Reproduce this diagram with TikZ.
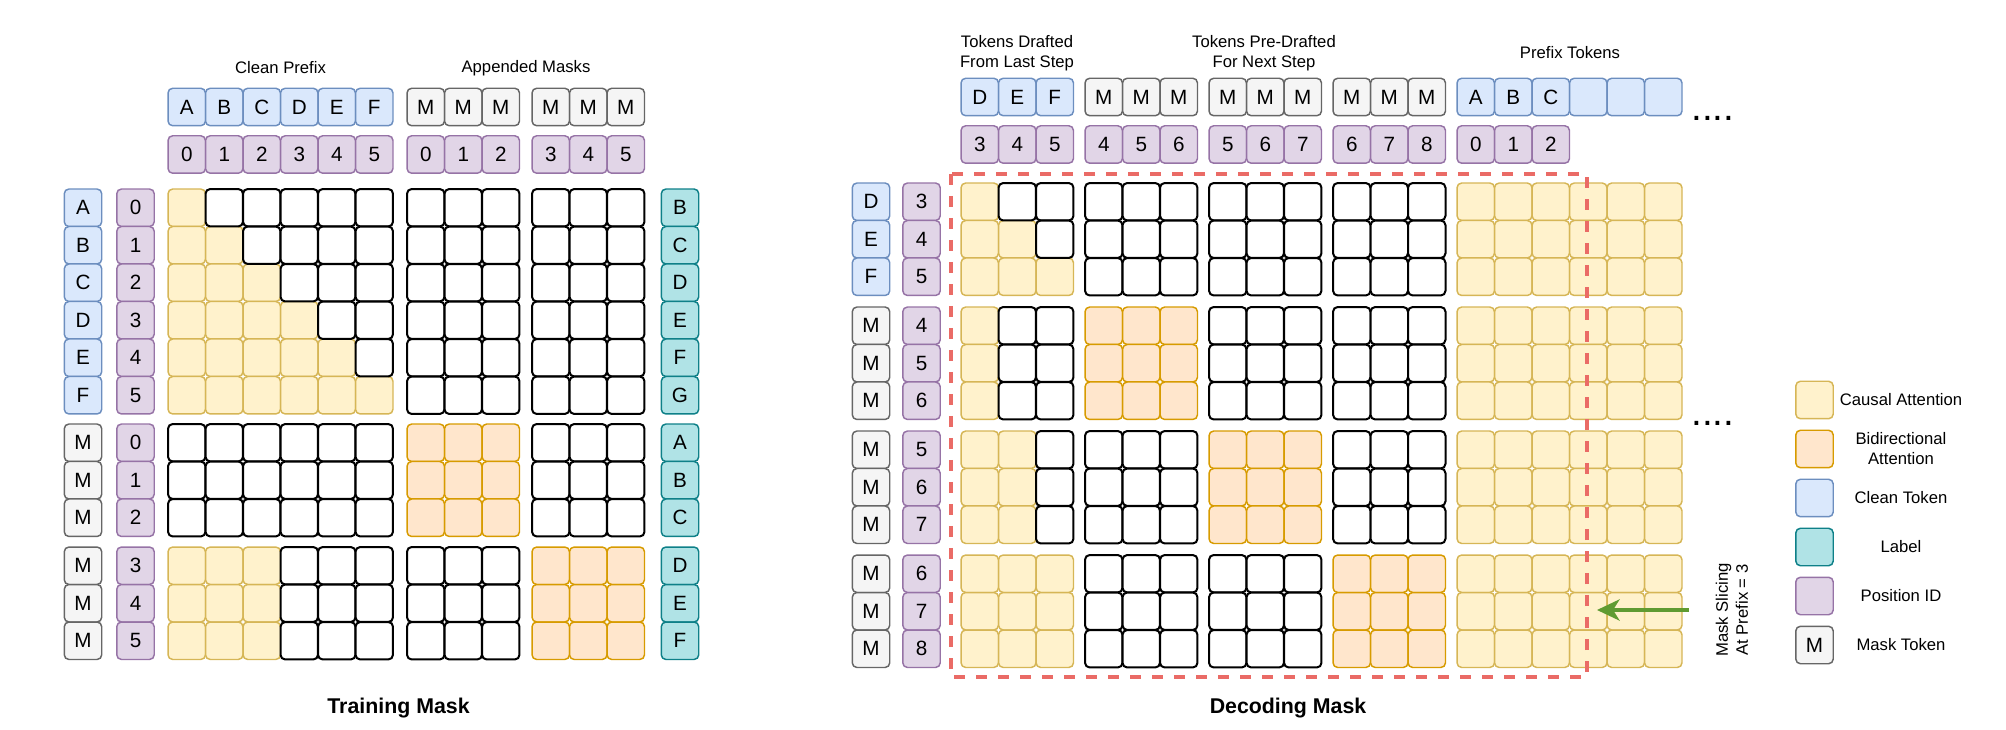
\documentclass[tikz,border=0pt]{standalone}
\usepackage{fontspec}
\setmainfont{Liberation Sans}
\usetikzlibrary{arrows.meta}
\definecolor{causalfill}{HTML}{FFF2CC}
\definecolor{causaldraw}{HTML}{D6B656}
\definecolor{bidirfill}{HTML}{FFE6CC}
\definecolor{bidirdraw}{HTML}{D79B00}
\definecolor{cleanfill}{HTML}{DAE8FC}
\definecolor{cleandraw}{HTML}{6C8EBF}
\definecolor{lblfill}{HTML}{B0E3E6}
\definecolor{lbldraw}{HTML}{0E8088}
\definecolor{posfill}{HTML}{E1D5E7}
\definecolor{posdraw}{HTML}{9673A6}
\definecolor{maskfill}{HTML}{F5F5F5}
\definecolor{maskdraw}{HTML}{666666}
\definecolor{slicered}{HTML}{EA6B66}
\definecolor{slicegreen}{HTML}{5F9B32}
\newcommand{\trainx}[1]{186.75+37.5*(#1)+14*((#1)>5)+12.5*((#1)>8)}
\newcommand{\trainy}[1]{207.75+37.5*(#1)+10*((#1)>5)+10.5*((#1)>8)}
\newcommand{\decx}[1]{979.75+37.5*(#1)+11.5*min(floor((#1)/3),4)}
\newcommand{\decy}[1]{201.75+37.5*(#1)+11.5*floor((#1)/3)}

\begin{document}
\begin{tikzpicture}
[x=0.75pt,y=-0.75pt,%
  cell/.style={shape=rectangle,rounded corners=3.5pt,minimum size=28.1pt,inner sep=0pt,%
    line width=1.5pt,draw=black,fill=white,font=\fontsize{15.5}{18}\selectfont},%
  causal/.style={cell,fill=causalfill,draw=causaldraw,line width=1.1pt},%
  bidir/.style={cell,fill=bidirfill,draw=bidirdraw,line width=1.1pt},%
  clean/.style={cell,fill=cleanfill,draw=cleandraw,line width=1.1pt},%
  lbl/.style={cell,fill=lblfill,draw=lbldraw,line width=1.1pt},%
  posid/.style={cell,fill=posfill,draw=posdraw,line width=1.1pt},%
  masktok/.style={cell,fill=maskfill,draw=maskdraw,line width=1.1pt},%
  note/.style={align=center,inner sep=0pt,font=\fontsize{12.5}{15}\selectfont},%
  title/.style={inner sep=0pt,font=\bfseries\fontsize{16}{19}\selectfont},%
  dots/.style={anchor=base west,inner sep=0pt,font=\fontsize{29}{30}\selectfont},%
  slicebox/.style={draw=slicered,line width=3pt,dash pattern=on 8pt off 8.5pt},%
  slicearrow/.style={draw=slicegreen,line width=2.3pt,-{Stealth[length=17pt,width=16pt,inset=5pt]}}]
\useasboundingbox (0,0) rectangle (2006,730);

% training mask
\node[note] (cleanprefix) at (280.5,68) {Clean Prefix};
\node[note] (appended) at (526,68) {Appended Masks};
\foreach \t [count=\c from 0] in {A,...,F}
  \node[clean] (th\c) at ({\trainx{\c}},107) {\t};
\foreach \c in {6,...,11}
  \node[masktok] (th\c) at ({\trainx{\c}},107) {M};
\foreach \p [count=\c from 0] in {0,1,2,3,4,5,0,1,2,3,4,5}
  \node[posid] (thp\c) at ({\trainx{\c}},154.5) {\p};
\foreach \t [count=\r from 0] in {A,...,F}
  \node[clean] (tk\r) at (83,{\trainy{\r}}) {\t};
\foreach \r in {6,...,11}
  \node[masktok] (tk\r) at (83,{\trainy{\r}}) {M};
\foreach \p [count=\r from 0] in {0,1,2,3,4,5,0,1,2,3,4,5}
  \node[posid] (tp\r) at (135.5,{\trainy{\r}}) {\p};
\foreach \t [count=\r from 0] in {B,C,D,E,F,G,A,B,C,D,E,F}
  \node[lbl] (tl\r) at (680,{\trainy{\r}}) {\t};
\foreach \r/\m in {0/0,1/1,2/2,3/3,4/4,5/5,9/2,10/2,11/2}
  \foreach \c in {0,...,\m}
    \node[causal] (t\r-\c) at ({\trainx{\c}},{\trainy{\r}}) {};
\foreach \r in {6,...,11}
  \foreach \c in {6,...,11}{
    \pgfmathtruncatemacro\isbid{floor(\r/3)==floor(\c/3)}
    \ifnum\isbid=1 \node[bidir] (t\r-\c) at ({\trainx{\c}},{\trainy{\r}}) {};\fi}
\foreach \r/\m in {0/0,1/1,2/2,3/3,4/4,5/5,6/-1,7/-1,8/-1,9/2,10/2,11/2}
  \foreach \c in {0,...,11}{
    \pgfmathtruncatemacro\isbid{(\r>5)&&(\c>5)&&(floor(\r/3)==floor(\c/3))}
    \ifnum\c>\m \ifnum\isbid=0
      \node[cell] (t\r-\c) at ({\trainx{\c}},{\trainy{\r}}) {};\fi\fi}
\node[title] (traintitle) at (398.5,708) {Training Mask};

% decoding mask
\node[note] (lastnote) at (1017,53) {Tokens Drafted\\From Last Step};
\node[note] (nextnote) at (1264,53) {Tokens Pre-Drafted\\For Next Step};
\node[note] (prefixnote) at (1570,53) {Prefix Tokens};
\foreach \t [count=\c from 0] in {D,E,F}
  \node[clean] (dh\c) at ({\decx{\c}},97) {\t};
\foreach \c in {3,...,11}
  \node[masktok] (dh\c) at ({\decx{\c}},97) {M};
\foreach \t [count=\c from 12] in {A,B,C}
  \node[clean] (dh\c) at ({\decx{\c}},97) {\t};
\foreach \c in {15,16,17}
  \node[clean] (dh\c) at ({\decx{\c}},97) {};
\foreach \p [count=\c from 0] in {3,4,5,4,5,6,5,6,7,6,7,8,0,1,2}
  \node[posid] (dhp\c) at ({\decx{\c}},144.5) {\p};
\foreach \t [count=\r from 0] in {D,E,F}
  \node[clean] (dk\r) at (871,{\decy{\r}}) {\t};
\foreach \r in {3,...,11}
  \node[masktok] (dk\r) at (871,{\decy{\r}}) {M};
\foreach \p [count=\r from 0] in {3,4,5,4,5,6,5,6,7,6,7,8}
  \node[posid] (dp\r) at (921.5,{\decy{\r}}) {\p};
\foreach \r/\m in {0/0,1/1,2/2,3/0,4/0,5/0,6/1,7/1,8/1,9/2,10/2,11/2}
  \foreach \c in {0,...,\m,12,13,14,15,16,17}
    \node[causal] (d\r-\c) at ({\decx{\c}},{\decy{\r}}) {};
\foreach \r in {3,...,11}
  \foreach \c in {3,...,11}{
    \pgfmathtruncatemacro\isbid{floor(\r/3)==floor(\c/3)}
    \ifnum\isbid=1 \node[bidir] (d\r-\c) at ({\decx{\c}},{\decy{\r}}) {};\fi}
\foreach \r/\m in {0/0,1/1,2/2,3/0,4/0,5/0,6/1,7/1,8/1,9/2,10/2,11/2}
  \foreach \c in {1,...,11}{
    \pgfmathtruncatemacro\isbid{(\r>2)&&(floor(\r/3)==floor(\c/3))}
    \ifnum\c>\m \ifnum\isbid=0
      \node[cell] (d\r-\c) at ({\decx{\c}},{\decy{\r}}) {};\fi\fi}
\node[dots] (topdots) at (1691,121) {....};
\node[dots] (middots) at (1691,426) {....};
\draw[slicebox] (951,174) rectangle (1587,677);
\node[note,rotate=90] (slicenote) at (1732,610) {Mask Slicing\\At Prefix = 3};
\coordinate (slicetail) at (1689,610);
\coordinate (slicetip) at (1597,610);
\draw[slicearrow] (slicetail) -- (slicetip);
\node[title] (dectitle) at (1288,708) {Decoding Mask};

% legend
\foreach \s/\m/\txt [count=\k from 0] in {causal//Causal Attention,bidir//{Bidirectional\\Attention},%
    clean//Clean Token,lbl//Label,posid//Position ID,masktok/M/Mask Token}{
  \node[\s] (key\k) at (1814.5,{400+49*\k}) {\m};
  \node[note] (keytext\k) at (1901,{400+49*\k}) {\txt};}
\end{tikzpicture}
\end{document}
